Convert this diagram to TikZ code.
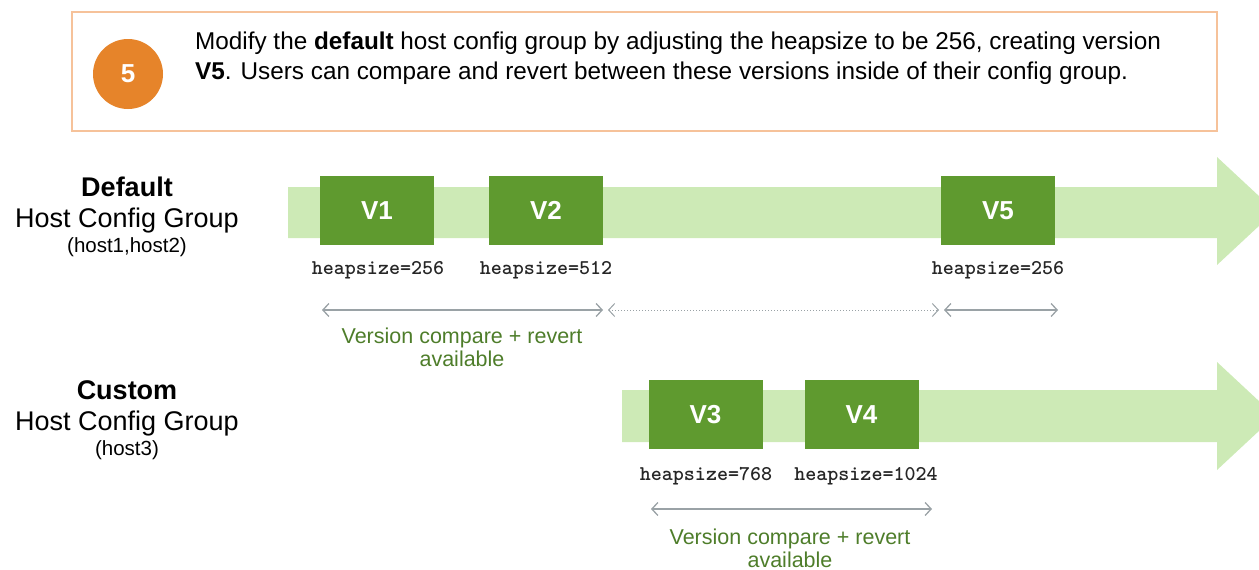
\documentclass[tikz,border=0pt]{standalone}
\usepackage{fontspec}
\setmainfont{Liberation Sans}
\newfontfamily\heapfont{Latin Modern Mono Light}
\usetikzlibrary{arrows.meta}

\definecolor{bandgreen}{HTML}{CDEAB6}
\definecolor{boxgreen}{HTML}{5F9A2F}
\definecolor{notegreen}{HTML}{4E7D2A}
\definecolor{stepor}{HTML}{E6842A}
\definecolor{frameor}{HTML}{F6C29A}
\definecolor{cmpgray}{HTML}{9AA2A6}

\begin{document}
\begin{tikzpicture}[
    x=1pt, y=-1pt,
    vbox/.style={fill=boxgreen, minimum width=114pt, minimum height=69pt,
        inner sep=0pt, text=white, font=\fontsize{26}{26}\selectfont\bfseries},
    heap/.style={font=\fontsize{21}{22}\selectfont\heapfont\bfseries, text=black!85},
    grp/.style={align=center, font=\fontsize{27}{31}\selectfont},
    note/.style={align=center, text=notegreen, font=\fontsize{21.5}{23}\selectfont},
    cmp/.style={draw=cmpgray, line width=1.3pt,
        {Straight Barb[length=6pt,width=13pt]}-{Straight Barb[length=6pt,width=13pt]}}
]
\useasboundingbox (0,0) rectangle (1259,570);
\clip (0,0) rectangle (1259,570);

% Step box
\draw[frameor, line width=1.6pt, fill=white] (72,12) rectangle (1217,131);
\node[circle, fill=stepor, minimum size=70pt, inner sep=0pt, text=white,
    font=\fontsize{26}{26}\selectfont\bfseries] (step5) at (128,74) {5};
\node[anchor=north west, align=left, inner sep=0pt,
    font=\fontsize{24.3}{30}\selectfont] (intro) at (195,32)
    {Modify the \textbf{default} host config group by adjusting the heapsize to be 256, creating version\\
     \textbf{V5}. Users can compare and revert between these versions inside of their config group.};

% Timelines
\fill[bandgreen] (288,187) -- (1217,187) -- (1217,157) -- (1275,211)
    -- (1217,265) -- (1217,238) -- (288,238) -- cycle;
\fill[bandgreen] (622,390) -- (1217,390) -- (1217,362) -- (1275,416)
    -- (1217,470) -- (1217,442) -- (622,442) -- cycle;

% Group labels
\node[grp] (default) at (127,217)
    {\textbf{Default}\\Host Config Group\\[-6pt]{\fontsize{20.5}{22}\selectfont(host1,host2)}};
\node[grp] (custom) at (127,420)
    {\textbf{Custom}\\Host Config Group\\[-6pt]{\fontsize{20.5}{22}\selectfont(host3)}};

% Default versions
\node[vbox] (v1) at (377,210.5) {V1};
\node[vbox] (v2) at (546,210.5) {V2};
\node[vbox] (v5) at (998,210.5) {V5};
\node[heap] (h1) at (378,270) {heapsize=256};
\node[heap] (h2) at (546,270) {heapsize=512};
\node[heap] (h5) at (998,270) {heapsize=256};

% Custom versions
\node[vbox] (v3) at (705.5,414.5) {V3};
\node[vbox] (v4) at (861.5,414.5) {V4};
\node[heap] (h3) at (706,476) {heapsize=768};
\node[heap] (h4) at (866,476) {heapsize=1024};

% Compare ranges
\coordinate (a1) at (322,310);
\coordinate (a2) at (603,310);
\coordinate (a3) at (608,310);
\coordinate (a4) at (939,310);
\coordinate (a5) at (944,310);
\coordinate (a6) at (1058,310);
\draw[cmp] (a1) -- (a2);
\draw[cmp, line width=1pt, dotted] (a3) -- (a4);
\draw[cmp] (a5) -- (a6);
\node[note] (n1) at (462,347.5) {Version compare + revert\\available};

\coordinate (b1) at (651,509);
\coordinate (b2) at (932,509);
\draw[cmp] (b1) -- (b2);
\node[note] (n2) at (790,548.5) {Version compare + revert\\available};
\end{tikzpicture}
\end{document}
